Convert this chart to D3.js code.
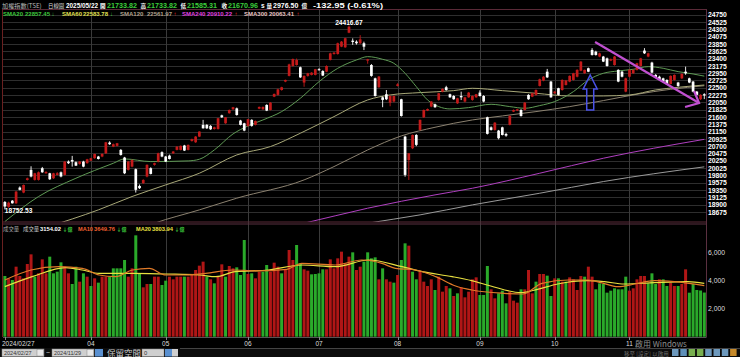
<!DOCTYPE html>
<html><head><meta charset="utf-8">
<script src="https://cdn.jsdelivr.net/npm/d3@7"></script>
<style>body{margin:0;background:#000;overflow:hidden}svg{display:block}</style>
</head><body>
<svg id="c" width="740" height="357"></svg>
<script>
// ---- DATA (TAIEX daily, 2024/02/27 - 2024/11/29) ----
const openP=[18980,18830,19020,18940,19425,19270,19660,19970,19660,19660,
20020,19865,19865,19710,19815,19895,19815,20225,20275,20205,
20155,20225,20175,20255,20330,20380,20380,20480,20810,20685,
20710,20585,20350,19970,20070,19990,19475,19560,19765,20020,
20125,20225,20515,20380,20410,20480,20585,20585,20720,20585,
20860,20820,20995,21355,21355,21325,21230,21230,21650,21405,
21715,21835,21865,21490,21405,21325,21510,21355,21855,21835,
21970,21815,22225,22280,22430,22690,22865,23170,23200,23130,
22660,22865,22895,22895,23070,23015,22995,23355,23540,23540,
23765,23745,24195,23950,23920,23870,23870,23335,23200,22790,
22515,22205,22300,22040,22075,22555,22145,20995,20275,20635,
21045,21200,21590,21795,21920,21990,22125,22380,22515,22300,
22245,22020,22245,22075,22205,22125,22205,22350,22245,21590,
21280,21200,21180,21280,21075,21355,21765,21795,21815,21815,
22280,22225,22280,22555,22720,22995,22690,22330,22485,22430,
22585,22690,22740,22840,23025,22945,23100,23665,23610,23460,
23460,23405,23335,23200,23050,22995,22380,22840,22945,23050,
23170,23645,23460,23275,22895,22840,22790,22740,22615,22740,
22660,22790,22995,22790,22690,22380,22145,22300];
const highP=[19010,18990,19040,19320,19460,19520,19730,20080,19880,19920,
20060,19930,19880,19880,19900,19920,20240,20260,20400,20230,
20240,20250,20310,20340,20470,20400,20480,20830,20850,20780,
20800,20610,20370,20240,20290,20010,19520,19680,20140,20050,
20190,20500,20540,20400,20440,20550,20700,20720,20740,20750,
20930,21010,21160,21510,21380,21350,21300,21570,21670,21600,
21830,21910,21890,21510,21420,21540,21530,21490,21920,21920,
21990,22060,22320,22470,22530,22750,23240,23400,23400,23150,
22880,22960,22980,23080,23100,23040,23190,23580,23600,23890,
23940,24040,24416.67,24020,23960,24120,23920,23390,23230,22810,
22860,22230,22430,22260,22260,22640,22160,21020,20490,21060,
21070,21520,21830,21860,22090,22010,22340,22480,22560,22320,
22270,22190,22380,22220,22370,22260,22310,22420,22270,21610,
21310,21440,21200,21300,21110,21650,21830,21850,21840,22060,
22300,22340,22450,22780,22860,23080,22710,22400,22500,22760,
22740,22880,22960,23070,23320,23060,23120,23720,23640,23580,
23480,23430,23400,23480,23070,23020,22810,23070,23070,23270,
23420,23720,23580,23300,22920,22870,22810,22760,22880,22910,
22680,22940,23150,22810,22710,22400,22300,22330];
const lowP=[18752.53,18800,18930,18920,19340,19250,19640,19740,19640,19640,
19880,19850,19660,19690,19800,19740,19800,20150,20070,20090,
20130,20050,20160,20240,20310,20290,20360,20460,20740,20670,
20690,20410,19840,19950,20050,19270,19380,19540,19740,19830,
20100,20200,20360,20210,20290,20460,20570,20570,20550,20570,
20840,20800,20980,21240,21230,21200,21210,21210,21570,21390,
21700,21820,21640,21340,21160,21300,21300,21340,21840,21820,
21780,21800,22210,22260,22410,22670,22850,23150,23180,22800,
22530,22840,22880,22880,23030,22860,22980,23340,23520,23520,
23750,23730,24180,23820,23830,23850,23660,23240,22840,22230,
22500,21900,22120,21930,22050,22540,21610,19760,19660,20610,
20700,21180,21570,21780,21900,21880,22100,22360,22410,22190,
22130,22000,22120,22050,22190,22100,22190,22230,22050,21060,
21180,21180,20910,21030,20990,21340,21750,21780,21610,21800,
22130,22210,22260,22540,22700,22800,22190,22310,22260,22410,
22570,22670,22720,22820,23010,22930,22980,23490,23490,23440,
23290,23150,23320,23180,22670,22820,22360,22820,22930,23030,
23150,23540,23440,22940,22800,22720,22670,22600,22600,22720,
22530,22770,22900,22640,22360,22260,22120,22150];
const closeP=[18840,18960,18940,19300,19355,19505,19710,19765,19865,19895,
19895,19905,19680,19865,19865,19765,20225,20175,20225,20100,
20225,20070,20295,20330,20460,20305,20460,20820,20760,20760,
20790,20430,19865,20225,20275,19355,19405,19660,20125,19845,
20175,20480,20380,20225,20305,20535,20685,20710,20565,20740,
20915,20995,21150,21250,21250,21220,21280,21560,21590,21590,
21815,21900,21660,21355,21180,21530,21325,21475,21910,21910,
21795,22040,22310,22450,22515,22740,23220,23385,23355,22820,
22865,22945,22965,23070,23050,22875,23170,23560,23580,23870,
23920,24025,24380,23910,23870,23990,23765,23375,22865,22245,
22845,22125,22145,22245,22245,22605,21630,19815,20480,21045,
20740,21510,21815,21845,22075,21900,22330,22465,22430,22205,
22145,22175,22205,22205,22350,22245,22300,22245,22075,21080,
21200,21425,20945,21045,21025,21630,21815,21835,21630,22040,
22145,22330,22430,22760,22840,22820,22205,22380,22280,22740,
22720,22865,22945,23050,23305,23050,22995,23510,23510,23560,
23305,23170,23375,23460,22690,22840,22790,23050,23050,23255,
23405,23560,23560,22965,22820,22740,22690,22615,22865,22895,
22555,22925,22945,22660,22380,22280,22280,22262];
// volume (億), and direction of the volume bar (1 = red / up, 0 = green / down)
const volume=[4336,4169,4050,5002,4336,4169,5193,5883,4288,4526,
5526,4526,5717,4526,4645,5312,5002,4526,3764,5002,
3931,4526,4288,3621,4169,3860,4288,4288,4288,4883,
4883,4883,5479,4288,4883,7240,4526,3526,3764,3764,
4288,4288,3693,4002,4288,4098,4288,4288,4288,4288,
4407,4764,5074,5360,4288,4098,3812,4288,5169,4288,
5050,4883,4955,4407,6907,4479,4526,4169,4645,4645,
5121,4645,5288,5002,4526,4764,6193,5479,6550,5240,
4812,4717,4455,4479,4526,4812,4812,5526,4883,5598,
6074,5240,5717,6026,4764,5002,5360,6026,5598,5669,
4098,4883,4098,3931,3860,4407,5479,6669,6502,4645,
4098,4645,3931,3621,4098,3336,4288,3217,3621,3455,
2907,3098,3526,2812,3217,4098,4240,2979,2979,5050,
3384,2740,3098,3288,2383,3217,2574,2431,3384,3384,
4764,3098,3931,4479,4479,4360,2907,4169,4169,3931,
3931,4240,4098,3336,4336,4288,5002,4288,3384,3812,
3764,3145,3288,3455,3384,3384,4288,3288,3455,4098,
4336,4336,3812,4526,3764,4098,4098,3621,3860,3621,
3621,3764,4812,3145,3764,3336,3300,3154.02];
const volUp=[0,1,0,1,1,1,1,1,0,1, 1,1,0,0,0,0,1,1,0,0, 1,0,1,0,1,0,1,1,0,0,
0,0,0,1,1,0,0,1,1,0, 1,1,0,0,1,1,1,1,0,1, 1,1,1,1,0,1,0,1,1,0,
1,1,0,0,0,1,0,1,1,0, 0,1,1,1,0,1,1,1,0,0, 1,1,0,0,0,0,1,1,1,1,
1,1,1,0,1,1,0,0,0,0, 1,0,1,1,0,1,0,0,1,0, 0,1,1,1,1,0,1,1,1,0,
1,0,1,1,1,1,1,0,0,0, 1,1,0,0,0,1,1,1,0,1, 1,1,0,1,1,0,0,1,0,1,
0,1,1,1,1,0,1,1,0,0, 0,0,0,0,0,0,0,1,1,1, 1,1,0,0,0,1,0,0,1,1,
0,1,1,0,0,0,0,0];
// moving averages: [trading day number, value]
const sma20=[[1,18378],[10,19148],[20,19712],[30,20174],[33,20307],[40,20225],[50,20246],[53,20297],[57,20584],[62,21077],[66,21323],[70,21508],[75,21765],[80,22175],[85,22688],[90,23099],[95,23355],[98,23458],[102,23376],[105,23253],[108,22945],[111,22534],[114,22124],[117,21919],[120,21847],[125,21888],[131,21990],[136,21919],[140,21867],[144,21950],[148,22073],[153,22380],[157,22740],[161,22945],[165,23017],[169,23068],[173,23150],[177,23099],[181,22996],[185,22924],[188,22857.45]];
const sma60=[[12,18200],[26,18737],[35,19148],[44,19507],[53,19866],[63,20430],[72,20687],[80,21098],[89,21611],[98,22124],[104,22278],[112,22350],[121,22411],[126,22483],[134,22411],[143,22329],[152,22247],[161,22247],[168,22278],[175,22432],[181,22514],[188,22583.78]];
const sma120=[[38,18200],[41,18327],[53,18737],[63,19097],[81,19661],[89,20071],[98,20584],[107,21016],[116,21282],[126,21508],[134,21631],[143,21765],[152,21919],[161,22104],[170,22299],[179,22452],[188,22561.97]];
const sma240=[[76,18200],[81,18327],[98,18789],[116,19199],[126,19404],[144,19866],[161,20328],[188,20910.22]];
const sma300=[[94,18250],[98,18327],[112,18583],[126,18891],[144,19250],[161,19610],[188,20063.41]];
const vma10=[[1,4050],[8,4764],[15.5,5002],[21.7,4883],[26.2,4407],[30.6,4288],[35.1,4764],[39.6,4883],[44,4407],[49.4,4407],[54.7,4526],[61.9,4764],[68,4700],[76.4,4812],[80.4,5240],[89.3,5121],[96.4,5479],[101.8,5240],[105.4,4883],[110.8,4764],[116.2,4288],[121.5,3621],[125.8,3336],[134.5,3098],[139.5,3050],[144.6,3812],[151.7,4050],[157,4050],[160.4,3860],[164.9,3574],[169.4,3764],[174.7,4002],[180,3931],[188,3649.76]];
const vma20=[[1,3574],[8.3,4288],[17.2,4931],[21.7,4764],[26.2,4526],[35.1,4526],[44,4478],[53,4407],[57.4,4288],[62.6,4645],[71.5,4764],[80.4,5121],[89.3,5002],[98.3,5479],[107.2,5002],[112.6,4645],[120.6,4288],[125.8,4002],[130.9,3621],[139,3145],[143.4,3384],[148.8,3764],[156.8,4002],[161.3,3931],[166.6,3764],[174.7,3860],[183.6,3931],[188,3803.94]];
const priceTicks=d3.range(18675,24751,225);
const volTicks=[2000,4000,6000];
const dateLabels=["2024/02/27","04","05","06","07","08","09","10","11"];
const dateDay=[1,24,44,66,85,106,128,148,168];
// annotation anchors [day, price]
const downArrow=[[158.8,23909],[186.6,22031]];
const upArrow={day:157.5,top:22893,bottom:21815};

// ---- DRAW ----
const N=closeP.length;
const svg=d3.select('#c');
const L=3,R=706.5,PT=9.5,PB=222,VT=224,VB=337;
const x=d3.scaleLinear().domain([1,N]).range([4.87,704.3]);
const y=d3.scaleLinear().domain([18675,24750]).range([211.9,14.7]);
const yv=d3.scaleLinear().domain([0,6000]).range([336.7,252.7]);
const RED='#c41a1a',WHITE='#ffffff';
const NUM='"Liberation Sans",Arial,sans-serif';
const CJK='"Noto Sans CJK TC","Noto Sans CJK SC",sans-serif';

svg.append('rect').attr('width',740).attr('height',357).attr('fill','#000');
const defs=svg.append('defs');
defs.append('clipPath').attr('id','cp').append('rect').attr('x',L).attr('y',PT).attr('width',R-L).attr('height',PB-PT);
defs.append('clipPath').attr('id','cv').append('rect').attr('x',L).attr('y',VT).attr('width',R-L).attr('height',VB-VT);

// grid
svg.append('g').selectAll('line').data(priceTicks).join('line')
  .attr('x1',L).attr('x2',R).attr('y1',d=>Math.round(y(d))+0.5).attr('y2',d=>Math.round(y(d))+0.5)
  .attr('stroke','#2e2e2e').attr('stroke-width',1);
svg.append('g').selectAll('line').data(dateDay.slice(1)).join('line')
  .attr('x1',d=>Math.round(x(d))+0.5).attr('x2',d=>Math.round(x(d))+0.5).attr('y1',PT).attr('y2',VB)
  .attr('stroke','#3a3a3a').attr('stroke-width',1);

// MAs
const line=d3.line().x(d=>x(d[0])).y(d=>y(d[1])).curve(d3.curveMonotoneX);
const gp=svg.append('g').attr('clip-path','url(#cp)');
[[sma300,'#9a9a9a'],[sma240,'#b040c0'],[sma120,'#8c8270'],[sma60,'#a8a878'],[sma20,'#5f9a55']].forEach(([d,c])=>{
  gp.append('path').attr('d',line(d)).attr('fill','none').attr('stroke',c).attr('stroke-width',1);
});

// candles
const idx=d3.range(N);
const gc=gp.append('g');
gc.selectAll('line').data(idx).join('line')
  .attr('x1',i=>x(i+1)).attr('x2',i=>x(i+1)).attr('y1',i=>y(highP[i])).attr('y2',i=>y(lowP[i]))
  .attr('stroke',i=>closeP[i]>=openP[i]?RED:WHITE).attr('stroke-width',0.9);
gc.selectAll('rect').data(idx).join('rect')
  .attr('x',i=>x(i+1)-1.35).attr('width',2.7)
  .attr('y',i=>y(Math.max(openP[i],closeP[i])))
  .attr('height',i=>Math.max(1,Math.abs(y(openP[i])-y(closeP[i]))))
  .attr('fill',i=>closeP[i]>=openP[i]?RED:WHITE);

// volume
const gv=svg.append('g').attr('clip-path','url(#cv)');
gv.selectAll('rect').data(idx).join('rect')
  .attr('x',i=>x(i+1)-1.5).attr('width',3)
  .attr('y',i=>yv(volume[i])).attr('height',i=>yv(0)-yv(volume[i]))
  .attr('fill',i=>volUp[i]?'#b01616':'#2aaa2a');
const vline=d3.line().x(d=>x(d[0])).y(d=>yv(d[1])).curve(d3.curveMonotoneX);
gv.append('path').attr('d',vline(vma20)).attr('fill','none').attr('stroke','#e8e040').attr('stroke-width',1.2);
gv.append('path').attr('d',vline(vma10)).attr('fill','none').attr('stroke','#e07a28').attr('stroke-width',1.2);

// borders
svg.append('rect').attr('x',L-0.5).attr('y',PT).attr('width',R-L+0.5).attr('height',PB-PT)
  .attr('fill','none').attr('stroke','#5a2a38').attr('stroke-width',1);
svg.append('line').attr('x1',L).attr('x2',R).attr('y1',VT).attr('y2',VT).attr('stroke','#5a3040');
svg.append('line').attr('x1',L-0.5).attr('x2',L-0.5).attr('y1',PT).attr('y2',VB).attr('stroke','#6a2020');
svg.append('line').attr('x1',R).attr('x2',R).attr('y1',PT).attr('y2',VB).attr('stroke','#5a3040');
svg.append('line').attr('x1',L).attr('x2',R).attr('y1',VB+0.5).attr('y2',VB+0.5).attr('stroke','#555');

// axes
const ax=svg.append('g').attr('transform',`translate(${R},0)`)
  .call(d3.axisRight(y).tickValues(priceTicks).tickSize(0).tickPadding(1.5).tickFormat(d3.format('d')));
ax.select('.domain').remove();
ax.selectAll('text').attr('fill','#fff').attr('font-family',NUM).attr('font-weight','bold').attr('font-size',6.8);
const axv=svg.append('g').attr('transform',`translate(${R},0)`)
  .call(d3.axisRight(yv).tickValues(volTicks).tickSize(0).tickPadding(1.5));
axv.select('.domain').remove();
axv.selectAll('text').attr('fill','#ddd').attr('font-family',NUM).attr('font-size',6.8);

// date axis
const gd=svg.append('g');
gd.selectAll('line').data(dateDay).join('line')
  .attr('x1',d=>Math.round(x(d))+0.5).attr('x2',d=>Math.round(x(d))+0.5).attr('y1',VB).attr('y2',VB+3).attr('stroke','#888');
gd.selectAll('text').data(dateLabels).join('text')
  .attr('x',(d,i)=>i===0?2:x(dateDay[i])).attr('y',346)
  .attr('text-anchor',(d,i)=>i===0?'start':'middle')
  .attr('fill','#ddd').attr('font-family',NUM).attr('font-size',6.5).text(d=>d);

// high / low labels
const hi=d3.maxIndex(highP), lo=d3.minIndex(lowP);
svg.append('text').attr('x',x(hi+1)).attr('y',y(highP[hi])-1).attr('text-anchor','middle')
  .attr('fill','#fff').attr('font-family',NUM).attr('font-weight','bold').attr('font-size',6.6)
  .text(d3.format('.2f')(highP[hi]));
svg.append('text').attr('x',x(lo+1)).attr('y',y(lowP[lo])+4).attr('text-anchor','start')
  .attr('fill','#fff').attr('font-family',NUM).attr('font-weight','bold').attr('font-size',6.6)
  .text(d3.format('.2f')(lowP[lo]));

// header texts
function seg(g,xp,yp,t,c,opt={}){
  const e=g.append('text').attr('x',xp).attr('y',yp).attr('fill',c)
   .attr('font-family',opt.cjk?CJK:NUM).attr('font-weight',opt.bold===false?'normal':'bold')
   .attr('font-size',opt.fs||6.6).text(t);
  if(opt.tl) e.attr('textLength',opt.tl).attr('lengthAdjust','spacingAndGlyphs');
}
const h=svg.append('g');
seg(h,2,8,'加權指數(TSE)','#bbb',{cjk:1,bold:false,fs:6.2});
seg(h,48,8,'日線圖','#ddd',{cjk:1,bold:false,fs:5.4});
seg(h,66,8.3,'2025/05/22','#fff',{fs:6.4});
seg(h,100,8,'開','#fff',{cjk:1,fs:5.6});
seg(h,107,8.3,'21733.82','#3ccf3c',{fs:7.2});
seg(h,140.5,8,'高','#fff',{cjk:1,fs:5.6});
seg(h,147,8.3,'21733.82','#3ccf3c',{fs:7.2});
seg(h,180.5,8,'低','#fff',{cjk:1,fs:5.6});
seg(h,187,8.3,'21585.31','#3ccf3c',{fs:7.2});
seg(h,221.5,8,'收','#fff',{cjk:1,fs:5.6});
seg(h,228,8.3,'21670.96','#3ccf3c',{fs:7.2});
seg(h,261,8.3,'s','#fff',{fs:6.5});
seg(h,266.5,8,'量','#fff',{cjk:1,fs:5.6});
seg(h,273,8.3,'2976.50','#fff',{fs:7});
seg(h,301.5,8,'億','#fff',{cjk:1,fs:5.6});
seg(h,313,8.3,'-132.95 (-0.61%)','#fff',{fs:7.2,tl:70});
// MA legend
const lg=[['SMA20',3,'22857.45',25,'#3cc83c','↓',51.5,'#3cc83c'],
          ['SMA60',62,'22583.78',83,'#e0e050','↓',110,'#3cc83c'],
          ['SMA120',120,'22561.97',147,'#b0a08c','↑',173.5,'#e02020'],
          ['SMA240',182,'20910.22',207,'#e040e0','↑',234.5,'#e02020'],
          ['SMA300',244,'20063.41',269,'#e8c4c4','↑',296.5,'#e02020']];
lg.forEach(r=>{
  seg(h,r[1],15.8,r[0],r[4],{fs:6});
  seg(h,r[3],15.8,r[2],r[4],{fs:6});
  seg(h,r[6],15.8,r[5],r[7],{fs:6});
});
// volume legend
seg(h,3,230.5,'成交量','#aaa',{cjk:1,bold:false,fs:5.4});
seg(h,23,230.5,'成交量','#ccc',{cjk:1,bold:false,fs:5.4});
seg(h,40,230.5,'3154.02','#fff',{fs:5.8});
seg(h,62.5,230.5,'↓億','#3cc83c',{cjk:1,fs:5});
seg(h,78,230.5,'MA10','#f06030',{fs:5.6});
seg(h,94,230.5,'3649.76','#f06030',{fs:5.8});
seg(h,116.5,230.5,'↓億','#3cc83c',{cjk:1,fs:5});
seg(h,136,230.5,'MA20','#e8e040',{fs:5.6});
seg(h,152,230.5,'3803.94','#e8e040',{fs:5.8});
seg(h,174.5,230.5,'↓億','#3cc83c',{cjk:1,fs:5});

// annotations
svg.append('line').attr('x1',x(downArrow[0][0])).attr('y1',y(downArrow[0][1]))
  .attr('x2',x(downArrow[1][0])).attr('y2',y(downArrow[1][1]))
  .attr('stroke','#c050d0').attr('stroke-width',2.2);
(function(){
  const tx=x(downArrow[1][0]),ty=y(downArrow[1][1]);
  svg.append('path').attr('d',`M${tx-5},${ty-12}L${tx},${ty}L${tx-14},${ty+4}`)
    .attr('fill','none').attr('stroke','#c050d0').attr('stroke-width',2.2);
  const ux=x(upArrow.day),ut=y(upArrow.top),ub=y(upArrow.bottom);
  svg.append('path').attr('d',`M${ux},${ut}L${ux+7},${ut+14}L${ux+3.5},${ut+14}L${ux+3.5},${ub}L${ux-3.5},${ub}L${ux-3.5},${ut+14}L${ux-7},${ut+14}Z`)
    .attr('fill','none').attr('stroke','#4a52e8').attr('stroke-width',1.5);
})();

// bottom toolbar
const tb=svg.append('g');
tb.append('rect').attr('x',0).attr('y',348).attr('width',740).attr('height',9).attr('fill','#0c0c0c');
tb.append('line').attr('x1',180).attr('x2',740).attr('y1',348.5).attr('y2',348.5).attr('stroke','#444');
[[2,44],[52,94]].forEach(([a,b],k)=>{
  tb.append('rect').attr('x',a).attr('y',349).attr('width',b-a).attr('height',7.5).attr('fill','#cfcfcf').attr('stroke','#888').attr('stroke-width',0.5);
  tb.append('rect').attr('x',b-7).attr('y',349.5).attr('width',6.5).attr('height',6.5).attr('fill','#e8e8e8').attr('stroke','#777').attr('stroke-width',0.4);
  tb.append('text').attr('x',a+2).attr('y',355.3).attr('fill','#333').attr('font-family',NUM).attr('font-size',5.5).text(k?'2024/11/29':'2024/02/27');
});
tb.append('text').attr('x',46).attr('y',355).attr('fill','#ccc').attr('font-family',NUM).attr('font-size',7).text('~');
tb.append('rect').attr('x',95).attr('y',349).attr('width',8).attr('height',7.5).attr('fill','#5a90d0');
tb.append('text').attr('x',107).attr('y',356).attr('fill','#ccc').attr('font-family',CJK).attr('font-size',8.5).text('保留空間');
tb.append('rect').attr('x',142).attr('y',349).attr('width',22).attr('height',7.5).attr('fill','#cfcfcf').attr('stroke','#888').attr('stroke-width',0.5);
tb.append('text').attr('x',144).attr('y',355.3).attr('fill','#333').attr('font-family',NUM).attr('font-size',5.8).text('0');
tb.append('rect').attr('x',165).attr('y',349).attr('width',7).attr('height',7.5).attr('fill','#5a90d0');
tb.append('rect').attr('x',172).attr('y',349).attr('width',6).attr('height',7.5).attr('fill','#cfcfcf');
['#7fb3dd','#6fa8d8','#8ccc5c','#8ccc5c','#7fb3dd','#7fb3dd','#7fb3dd','#e8a030'].forEach((c,k)=>{
  tb.append('rect').attr('x',672+k*8.3).attr('y',349).attr('width',6.5).attr('height',7).attr('fill',c).attr('opacity',0.85);
});
// watermark
svg.append('text').attr('x',635).attr('y',347).attr('fill','#bbb').attr('opacity',0.75)
  .attr('font-family',CJK).attr('font-size',8).text('啟用 Windows');
svg.append('text').attr('x',624).attr('y',356).attr('fill','#999').attr('opacity',0.7)
  .attr('font-family',CJK).attr('font-size',5.5).text('移至 [設定] 以啟用');
</script>
</body></html>
